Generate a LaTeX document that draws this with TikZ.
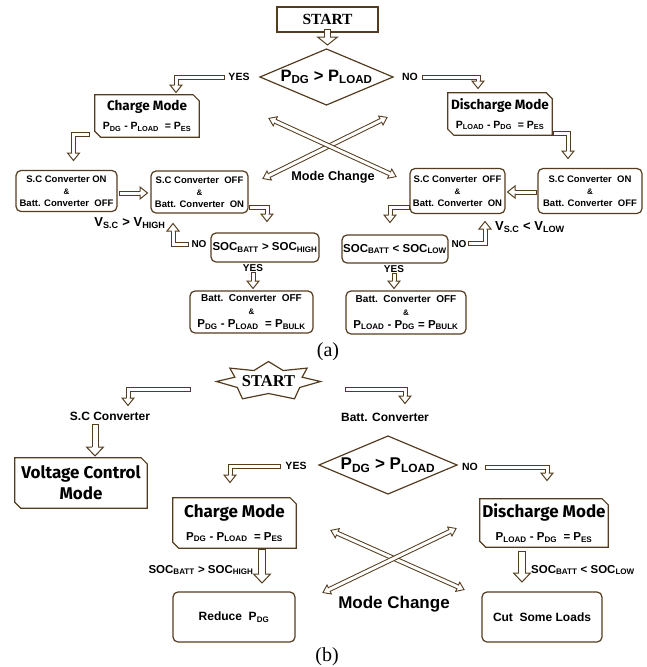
\documentclass[tikz,border=0pt]{standalone}
\usepackage{fontspec}
\setmainfont{Liberation Serif}
\newfontfamily\ar{Liberation Sans}
\newfontfamily\ns{Fira Sans}
\usetikzlibrary{calc}
\definecolor{brn}{RGB}{84,60,30}
\newcommand\sbs[1]{\textsubscript{#1}}
\newcommand\fz[2]{\fontsize{#1}{#2}\selectfont}
\newcommand\chb[7]{%
  \node[minimum width=#4pt, minimum height=#5pt, inner sep=0pt, align=center, font=\fz{10}{#6}] (#1) at (#2,#3) {#7};
  \draw[bx] (#1.north west) -- ($(#1.north east)+(-6pt,0)$) -- ($(#1.north east)+(0,-6pt)$)
    -- (#1.south east) -- ($(#1.south west)+(6pt,0)$) -- ($(#1.south west)+(0,6pt)$) -- cycle;}
\newcommand\dia[3]{% name, half width, half height
  \draw[bx] (#1.center) ++(-#2,0) -- ++(#2,-#3) -- ++(#2,#3) -- ++(-#2,#3) -- cycle;}
\tikzset{
  bx/.style={draw=brn, line width=1.2pt},
  rbox/.style={bx, rounded corners=5pt, align=center, inner sep=0pt},
  lbl/.style={inner sep=0pt, font=\ar\bfseries\fz{10.5}{12}},
  hol/.style={draw=brn, double=white, double distance=3pt, line width=1pt, line cap=rect, line join=miter},
  holw/.style={hol, double distance=6pt},
  hols/.style={hol, double distance=5pt},
  hd/.pic={\fill[white] (0,-6)--(7.5,0)--(0,6)--cycle;
    \draw[brn, line width=1pt, line join=miter] (0,-1.5)--(0,-6)--(7.5,0)--(0,6)--(0,1.5);},
  hdd/.pic={\fill[white] (0,-5)--(7,0)--(0,5)--cycle;
    \draw[brn, line width=0.9pt, line join=miter] (0,-1.5)--(0,-5)--(7,0)--(0,5)--(0,1.5);},
  hdw/.pic={\fill[white] (0,-8.5)--(9,0)--(0,8.5)--cycle;
    \draw[brn, line width=1pt, line join=miter] (0,-3)--(0,-8.5)--(9,0)--(0,8.5)--(0,3);},
  hdst/.pic={\fill[white] (0,-10)--(8,0)--(0,10)--cycle;
    \draw[brn, line width=1pt, line join=miter] (0,-2.5)--(0,-10)--(8,0)--(0,10)--(0,2.5);},
}
\begin{document}
\begin{tikzpicture}[x=1pt,y=-1pt]
\useasboundingbox (0,0) rectangle (647,667);

% ================= (a) =================
\node[bx, minimum width=101pt, minimum height=25pt, inner sep=0pt, font=\bfseries\fz{15.5}{16}] (st1) at (327.5,19.5) {START};
\node[inner sep=0pt, font=\ar\bfseries\fz{16.5}{18}] (d1) at (326.5,77) {P\sbs{DG} > P\sbs{LOAD}};
\dia{d1}{66.5}{28}
\node[lbl] (yes1) at (239,77) {YES};
\node[lbl] (no1) at (410,77) {NO};

\chb{cm1}{147}{116}{104}{42}{19}{{\ns\bfseries\fz{13.5}{15}Charge Mode}\\{\ar\bfseries\fz{10.5}{11}P\sbs{DG} - P\sbs{LOAD}\ \ = P\sbs{ES}}}
\chb{dm1}{500}{114}{104}{42}{19}{{\ns\bfseries\fz{13.5}{15}Discharge Mode}\\{\ar\bfseries\fz{10.5}{11}P\sbs{LOAD} - P\sbs{DG}\ \ = P\sbs{ES}}}

\node[rbox, minimum width=101pt, minimum height=41pt, font=\ar\bfseries\fz{9.5}{12}] (a1) at (66.5,191) {S.C Converter ON\\{\fz{8}{12}\&}\\Batt. Converter\ \ OFF};
\node[rbox, minimum width=97pt, minimum height=42pt, font=\ar\bfseries\fz{9.5}{12}] (a2) at (199.5,192) {S.C Converter\ \ OFF\\{\fz{8}{12}\&}\\Batt. Converter\ \ ON};
\node[rbox, minimum width=104pt, minimum height=45pt, font=\ar\bfseries\fz{9.5}{12}] (b1) at (590,191) {S.C Converter\ \ ON\\{\fz{8}{12}\&}\\Batt. Converter\ \ OFF};
\node[rbox, minimum width=95pt, minimum height=45pt, font=\ar\bfseries\fz{9.5}{12}] (b2) at (457.5,191) {S.C Converter\ \ OFF\\{\fz{8}{12}\&}\\Batt. Converter\ \ ON};

\node[rbox, minimum width=108pt, minimum height=29pt, font=\ar\bfseries\fz{11.5}{13}] (sa) at (265,247.5) {SOC\sbs{BATT} > SOC\sbs{HIGH}};
\node[rbox, minimum width=106pt, minimum height=28pt, font=\ar\bfseries\fz{11.5}{13}] (sb) at (395,249) {SOC\sbs{BATT} < SOC\sbs{LOW}};

\node[rbox, minimum width=123pt, minimum height=42pt, font=\ar\bfseries\fz{10}{13}] (fa) at (251.5,312) {Batt.\ \ Converter\ \ OFF\\{\fz{8}{13}\&}\\{\fz{11.5}{13}P\sbs{DG} - P\sbs{LOAD}\ \ = P\sbs{BULK}}};
\node[rbox, minimum width=120pt, minimum height=43pt, font=\ar\bfseries\fz{10}{13}] (fb) at (406,312.5) {Batt.\ \ Converter\ \ OFF\\{\fz{8}{13}\&}\\{\fz{11.5}{13}P\sbs{LOAD} - P\sbs{DG} = P\sbs{BULK}}};

\node[lbl, font=\ar\bfseries\fz{13}{14}] (vh) at (130,223) {V\sbs{S.C} > V\sbs{HIGH}};
\node[lbl, font=\ar\bfseries\fz{13}{14}] (vl) at (530,227) {V\sbs{S.C} < V\sbs{LOW}};
\node[lbl, font=\ar\bfseries\fz{10}{12}] (noa) at (199,244) {NO};
\node[lbl, font=\ar\bfseries\fz{10}{12}] (yesa) at (253,268) {YES};
\node[lbl, font=\ar\bfseries\fz{10}{12}] (nob) at (459,244) {NO};
\node[lbl, font=\ar\bfseries\fz{10}{12}] (yesb) at (394,269) {YES};
\node[lbl, font=\ar\bfseries\fz{12.7}{14}] (mc1) at (333,177) {Mode Change};
\node[inner sep=0pt, font=\fz{20}{22}] (capa) at (328,352) {(a)};

% arrows (a)
\draw[hols] (st1.south) -- (327.5,37);
\pic[rotate=-90] at (327.5,37) {hdst};
\draw[hol] (yes1.west) ++(-6,0) -- (176,77) -- (176,85);
\pic[rotate=-90] at (176,85) {hd};
\draw[hol] (no1.east) ++(6,0) -- (478,77) -- (478,81);
\pic[rotate=-90] at (478,81) {hd};
\draw[hol] (87,134) -- (73.5,134) -- (73.5,153);
\pic[rotate=-90] at (73.5,153) {hd};
\draw[hol] (555,133) -- (568,133) -- (568,151);
\pic[rotate=-90] at (568,151) {hd};
\draw[hol] (a1.east) ++(4,2) -- (140,193);
\pic at (140,193) {hd};
\draw[hol] (251,207) -- (267,207) -- (267,214);
\pic[rotate=-90] at (267,214) {hd};
\draw[hol] (noa.west) ++(-5,0) -- (173,244) -- (173,231);
\pic[rotate=90] at (173,231) {hd};
\draw[hol] (yesa.south) ++(0,3) -- (253,281);
\pic[rotate=-90] at (253,281) {hd};
\draw[hol] (b1.west) ++(-3,1) -- (515,192);
\pic[rotate=180] at (515,192) {hd};
\draw[hol] (407,207) -- (390,207) -- (390,215);
\pic[rotate=-90] at (390,215) {hd};
\draw[hol] (nob.east) ++(4,-1) -- (485,243) -- (485,229);
\pic[rotate=90] at (485,229) {hd};
\draw[hol] (yesb.south) ++(0,3) -- (394,281);
\pic[rotate=-90] at (394,281) {hd};
% mode change (a)
\coordinate (x1s) at (269.2,175.5); \coordinate (x1e) at (380.8,120.5);
\coordinate (x2s) at (275.3,121.3); \coordinate (x2e) at (389.7,173.7);
\draw[hol] (x1s) -- (x1e);
\draw[hol] (x2s) -- (x2e);
\pic[rotate=26.2] at (x1e) {hdd};
\pic[rotate=206.2] at (x1s) {hdd};
\pic[rotate=-24.6] at (x2e) {hdd};
\pic[rotate=155.4] at (x2s) {hdd};

% ================= (b) =================
\coordinate (sc) at (268.5,381.5);
\draw[bx, fill=white] ($(sc)+(0:52pt and 20pt)$)
  -- ($(sc)+(21:36pt and 12pt)$) -- ($(sc)+(42:52pt and 20pt)$)
  -- ($(sc)+(66:36pt and 12pt)$) -- ($(sc)+(90:52pt and 20pt)$)
  -- ($(sc)+(114:36pt and 12pt)$) -- ($(sc)+(138:52pt and 20pt)$)
  -- ($(sc)+(159:36pt and 12pt)$) -- ($(sc)+(180:52pt and 20pt)$)
  -- ($(sc)+(210:36pt and 12pt)$) -- ($(sc)+(240:52pt and 20pt)$)
  -- ($(sc)+(270:36pt and 12pt)$) -- ($(sc)+(300:52pt and 20pt)$)
  -- ($(sc)+(330:36pt and 12pt)$) -- cycle;
\node[inner sep=0pt, font=\bfseries\fz{16.5}{18}] (st2) at (sc) {START};

\node[lbl, font=\ar\bfseries\fz{12}{14}] (scc) at (110,416) {S.C Converter};
\node[lbl, font=\ar\bfseries\fz{12}{14}] (bc) at (385,417) {Batt. Converter};
\draw[hol] (188,389) -- (128,389) -- (128,398);
\pic[rotate=-90] at (128,398) {hd};
\draw[hol] (347,389) -- (405,389) -- (405,396);
\pic[rotate=-90] at (405,396) {hd};
\draw[hols] (95,427) -- (95,447);
\pic[rotate=-90] at (95,447) {hdw};

\chb{vcm}{81}{483}{132}{50}{21}{{\ns\bfseries\fz{17}{19}Voltage Control}\\{\ns\bfseries\fz{17}{19}Mode}}

\node[inner sep=0pt, font=\ar\bfseries\fz{17}{18}] (d2) at (388,465) {P\sbs{DG} > P\sbs{LOAD}};
\dia{d2}{69}{29}
\node[lbl] (yes2) at (296,466) {YES};
\node[lbl] (no2) at (470,467) {NO};
\draw[hol] (278,466) -- (230,466) -- (230,475);
\pic[rotate=-90] at (230,475) {hd};
\draw[hol] (487,467) -- (547,467) -- (547,473);
\pic[rotate=-90] at (547,473) {hd};

\chb{cm2}{234.5}{523}{123}{50}{23}{{\ns\bfseries\fz{17}{19}Charge Mode}\\{\ar\bfseries\fz{11.5}{12}P\sbs{DG} - P\sbs{LOAD}\ \ = P\sbs{ES}}}
\chb{dm2}{544}{523}{128}{48}{23}{{\ns\bfseries\fz{17}{19}Discharge Mode}\\{\ar\bfseries\fz{11.5}{12}P\sbs{LOAD} - P\sbs{DG}\ \ = P\sbs{ES}}}

\node[rbox, minimum width=122pt, minimum height=50pt, font=\ar\bfseries\fz{12}{14}] (rd) at (234,617) {Reduce\ \ P\sbs{DG}};
\node[rbox, minimum width=120pt, minimum height=50pt, font=\ar\bfseries\fz{12}{14}] (csl) at (542,617) {Cut\ \ Some Loads};

\draw[holw] (262,553) -- (262,574);
\pic[rotate=-90] at (262,574) {hdw};
\draw[holw] (522,555) -- (522,573);
\pic[rotate=-90] at (522,573) {hdw};
\node[lbl, font=\ar\bfseries\fz{11.5}{13}] (sh2) at (201,570) {SOC\sbs{BATT} > SOC\sbs{HIGH}};
\node[lbl, font=\ar\bfseries\fz{11.5}{13}] (sl2) at (583,570) {SOC\sbs{BATT} < SOC\sbs{LOW}};

% mode change (b)
\coordinate (y1s) at (337.3,533.2); \coordinate (y1e) at (457.7,586.8);
\coordinate (y2s) at (329.2,589.5); \coordinate (y2e) at (449.8,531.5);
\draw[hol] (y1s) -- (y1e);
\draw[hol] (y2s) -- (y2e);
\pic[rotate=-24] at (y1e) {hdd};
\pic[rotate=156] at (y1s) {hdd};
\pic[rotate=25.7] at (y2e) {hdd};
\pic[rotate=205.7] at (y2s) {hdd};
\node[lbl, font=\ar\bfseries\fz{17}{18}] (mc2) at (394,604) {Mode Change};
\node[inner sep=0pt, font=\fz{20}{22}] (capb) at (327,657) {(b)};
\end{tikzpicture}
\end{document}
